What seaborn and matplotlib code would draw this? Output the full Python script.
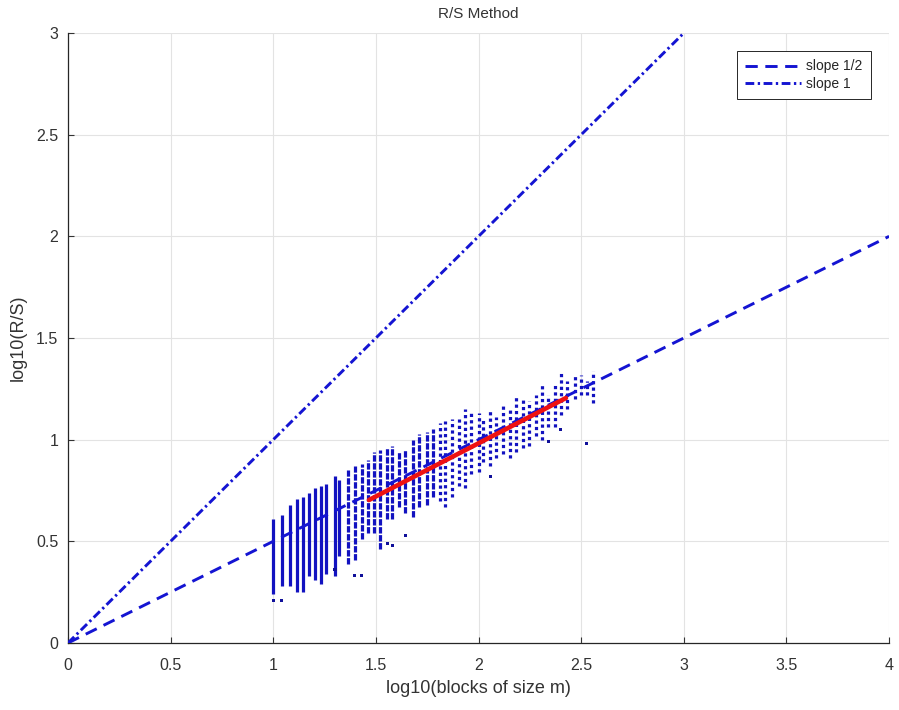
import numpy as np
import pandas as pd
import matplotlib
matplotlib.use("Agg")
import matplotlib.pyplot as plt
import seaborn as sns

# block sizes m and extents of log10(R/S) per block size
block_sizes = [10, 11, 12, 13, 14, 15, 16, 17, 18, 20, 21, 23, 25, 27, 29, 31, 33, 36, 38, 41,
               44, 48, 51, 56, 60, 65, 69, 74, 80, 86, 92, 100, 105, 114, 122, 132, 142, 153, 164, 177,
               191, 203, 219, 236, 252, 271, 295, 315, 337, 362]
rs_high = [0.61, 0.63, 0.68, 0.71, 0.72, 0.74, 0.76, 0.77, 0.78, 0.82, 0.80, 0.85, 0.87, 0.88, 0.90,
           0.94, 0.95, 0.96, 0.97, 0.94, 0.95, 1.00, 1.03, 1.04, 1.05, 1.08, 1.09, 1.10, 1.10, 1.15,
           1.14, 1.13, 1.10, 1.15, 1.11, 1.18, 1.16, 1.22, 1.20, 1.19, 1.22, 1.28, 1.22, 1.28, 1.34,
           1.29, 1.32, 1.32, 1.29, 1.34]
rs_low = [0.24, 0.28, 0.28, 0.25, 0.25, 0.33, 0.31, 0.29, 0.34, 0.33, 0.43, 0.39, 0.41, 0.51, 0.54,
          0.54, 0.46, 0.61, 0.61, 0.67, 0.64, 0.62, 0.67, 0.68, 0.72, 0.70, 0.67, 0.72, 0.77, 0.76,
          0.83, 0.84, 0.89, 0.87, 0.91, 0.93, 0.91, 0.94, 0.96, 0.97, 1.02, 1.00, 1.06, 1.06, 1.12,
          1.15, 1.20, 1.22, 1.22, 1.18]

# isolated points outside the column extents
outlier_m = [10, 11, 20, 25, 27, 36, 38, 44, 114, 219, 252, 337]
outlier_rs = [0.21, 0.21, 0.36, 0.33, 0.33, 0.49, 0.48, 0.53, 0.82, 0.99, 1.05, 0.98]

# least squares fit segment and reference slopes
fit_x = [1.466, 2.426]
fit_y = [0.703, 1.205]
half_x = [0, 4]
half_y = [0, 2]
one_x = [0, 3]
one_y = [0, 3]

x_ticks = [0, 0.5, 1, 1.5, 2, 2.5, 3, 3.5, 4]
x_tick_labels = ["0", "0.5", "1", "1.5", "2", "2.5", "3", "3.5", "4"]
y_ticks = [0, 0.5, 1, 1.5, 2, 2.5, 3]
y_tick_labels = ["0", "0.5", "1", "1.5", "2", "2.5", "3"]

sns.set_style("whitegrid")
plt.rcParams['font.family'] = ['Liberation Sans', 'DejaVu Sans']

fig = plt.figure(figsize=(8.99, 7.10), dpi=100)
ax = fig.add_axes([0.0756, 0.0944, 0.9134, 0.8591])

blue = "#1414d2"
text_col = "#333333"
col_x = np.log10(block_sizes)

# columns of R/S values: dense for small blocks, sparse for big ones
for i, (x, lo, hi) in enumerate(zip(col_x, rs_low, rs_high)):
    if block_sizes[i] <= 21:
        ls = "-"
    elif block_sizes[i] <= 60:
        ls = (0, (2.0, 0.5))
    else:
        ls = (0, (1.0, 1.0))
    ax.vlines(x, lo, hi, colors="#1212c0", linewidth=2.3, linestyles=ls, zorder=2)

sns.scatterplot(x=np.log10(outlier_m), y=outlier_rs, ax=ax, marker="s", s=5,
                color="#10109a", edgecolor="none", zorder=2, legend=False)

half_df = pd.DataFrame({"x": half_x, "y": half_y})
one_df = pd.DataFrame({"x": one_x, "y": one_y})
fit_df = pd.DataFrame({"x": fit_x, "y": fit_y})

sns.lineplot(data=half_df, x="x", y="y", ax=ax, color=blue, linewidth=2.1,
             label="slope 1/2", zorder=3)
ax.lines[-1].set_dashes((4.2, 2.6))
sns.lineplot(data=one_df, x="x", y="y", ax=ax, color=blue, linewidth=2.1,
             label="slope 1", zorder=3)
ax.lines[-1].set_dashes((3.0, 1.2, 0.8, 1.2))
sns.lineplot(data=fit_df, x="x", y="y", ax=ax, color="#ee1111", linewidth=3.3,
             zorder=4, legend=False)

ax.set_xlim(0, 4)
ax.set_ylim(0, 3)
ax.set_xticks(x_ticks)
ax.set_xticklabels(x_tick_labels)
ax.set_yticks(y_ticks)
ax.set_yticklabels(y_tick_labels)
ax.grid(True, color="#e3e3e3", linewidth=0.8)
ax.set_axisbelow(True)

for side in ["top", "right"]:
    ax.spines[side].set_visible(False)
for side in ["left", "bottom"]:
    ax.spines[side].set_color("#262626")
    ax.spines[side].set_linewidth(0.9)

ax.tick_params(direction="in", length=4, width=0.8, colors=text_col,
               labelsize=11.5, left=True, bottom=True)
ax.tick_params(axis="x", pad=11)
ax.tick_params(axis="y", pad=7)

ax.set_xlabel("log10(blocks of size m)", fontsize=13, color=text_col, labelpad=5)
ax.set_ylabel("log10(R/S)", fontsize=13, color=text_col, labelpad=7)
ax.set_title("R/S Method", fontsize=11, color=text_col, pad=11)

leg = ax.legend(loc="upper right", fontsize=10, handlelength=4.0, frameon=True,
                fancybox=False, framealpha=1, borderaxespad=1.3, borderpad=0.6,
                labelspacing=0.25, handletextpad=0.4)
leg.get_frame().set_edgecolor("#262626")
leg.get_frame().set_linewidth(0.7)

plt.savefig("out.png", dpi=100)
plt.close()
